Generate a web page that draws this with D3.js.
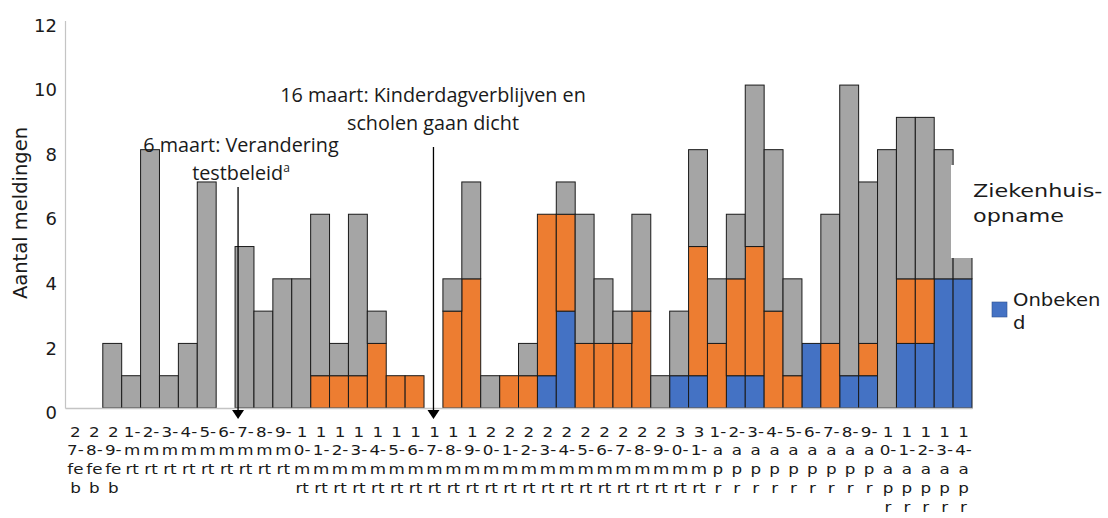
<!DOCTYPE html>
<html>
<head>
<meta charset="utf-8">
<script src="https://cdn.jsdelivr.net/npm/d3@7"></script>
<style>
  body { margin: 0; background: #fff; }
  svg { display: block; }
</style>
</head>
<body>
<svg id="chart" width="1108" height="518"></svg>
<script>
// categories (dates as Excel printed them)
const dates = [
  "27-feb", "28-feb", "29-feb",
  "1-mrt", "2-mrt", "3-mrt", "4-mrt", "5-mrt", "6-mrt", "7-mrt", "8-mrt", "9-mrt", "10-mrt",
  "11-mrt", "12-mrt", "13-mrt", "14-mrt", "15-mrt", "16-mrt", "17-mrt", "18-mrt", "19-mrt", "20-mrt",
  "21-mrt", "22-mrt", "23-mrt", "24-mrt", "25-mrt", "26-mrt", "27-mrt", "28-mrt", "29-mrt", "30-mrt", "31-mrt",
  "1-apr", "2-apr", "3-apr", "4-apr", "5-apr", "6-apr", "7-apr", "8-apr", "9-apr", "10-apr",
  "11-apr", "12-apr", "13-apr", "14-apr"
];

// series (stacked bottom -> top)
const onbekend = [0,0,0, 0,0,0,0,0,0,0,0,0,0, 0,0,0,0,0,0,0,0,0,0, 0,0,1,3,0,0,0,0,0,1,1, 0,1,1,0,0,2,0,1,1,0, 2,2,4,4];
const ja       = [0,0,0, 0,0,0,0,0,0,0,0,0,0, 1,1,1,2,1,1,0,3,4,0, 1,1,5,3,2,2,2,3,0,0,4, 2,3,4,3,1,0,2,0,1,0, 2,2,0,0];
const nee      = [0,0,2, 1,8,1,2,7,0,5,3,4,4, 5,1,5,1,0,0,0,1,3,1, 0,1,0,1,4,2,1,3,1,2,3, 2,2,5,5,3,0,4,9,5,8, 5,5,4,2];

const seriesKeys = ["onbekend", "ja", "nee"];
const seriesColors = { onbekend: "#4472c4", ja: "#ed7d31", nee: "#a5a5a5" };

const yTicks = [0, 2, 4, 6, 8, 10, 12];

const annotations = [
  { date: "7-mrt", offset: 3, lines: ["6 maart: Verandering", "testbeleid"], sup: "a", textX: 241, topY: 152, lineTop: 187 },
  { date: "17-mrt", offset: null, lines: ["16 maart: Kinderdagverblijven en", "scholen gaan dicht"], sup: null, textX: 433, topY: 102, lineTop: 147 }
];

const table = dates.map((d, i) => ({ date: d, onbekend: onbekend[i], ja: ja[i], nee: nee[i] }));

const svg = d3.select("#chart");
const margin = { left: 65, right: 136, top: 20, bottom: 110 };
const W = 1108, H = 518;

const x = d3.scaleBand().domain(dates).range([margin.left, W - margin.right]).padding(0);
const y = d3.scaleLinear().domain([0, 12]).range([H - margin.bottom, margin.top + 0.5]);

const stacked = d3.stack().keys(seriesKeys)(table);

// bars
svg.append("g").selectAll("g")
  .data(stacked)
  .join("g")
  .attr("fill", s => seriesColors[s.key])
  .selectAll("rect")
  .data(s => s.filter(d => d[1] - d[0] > 0))
  .join("rect")
  .attr("x", d => x(d.data.date))
  .attr("y", d => y(d[1]))
  .attr("width", x.bandwidth())
  .attr("height", d => y(d[0]) - y(d[1]))
  .attr("stroke", "#1a1a1a")
  .attr("stroke-width", 1);

// y axis
const yAxis = svg.append("g")
  .attr("transform", `translate(${margin.left},0)`)
  .call(d3.axisLeft(y).tickValues(yTicks).tickSize(0).tickPadding(8));
yAxis.select(".domain").attr("stroke", "#c4c4c4").attr("stroke-width", 1.2);
yAxis.selectAll("text")
  .attr("font-family", "DejaVu Sans, Verdana, sans-serif")
  .attr("font-size", 18)
  .attr("fill", "#1a1a1a")
  .attr("dy", "0.95em")
  .attr("transform", "translate(0,-6.5)");

// x axis
const xAxis = svg.append("g")
  .attr("transform", `translate(0,${y(0)})`)
  .call(d3.axisBottom(x).tickSize(0).tickFormat(""));
xAxis.select(".domain").attr("stroke", "#c4c4c4").attr("stroke-width", 1.5);

// wrapped tick labels, broken per character like the original
const measure = svg.append("text")
  .attr("font-family", "DejaVu Sans, Verdana, sans-serif")
  .attr("font-size", 14)
  .attr("visibility", "hidden");
function textWidth(s) {
  measure.text(s);
  return measure.node().getComputedTextLength();
}
function wrapLabel(label, maxW) {
  const out = [];
  let line = "";
  for (const ch of label) {
    if (line !== "" && textWidth(line + ch) > maxW) {
      out.push(line);
      line = ch;
    } else {
      line += ch;
    }
  }
  if (line) out.push(line);
  return out;
}
const labelMax = 14 * 1.02;
xAxis.selectAll(".tick").each(function (d) {
  const lines = wrapLabel(d, labelMax);
  const g = d3.select(this).append("g").attr("transform", "translate(1,28.5) scale(1.17,1)");
  lines.forEach((ln, k) => {
    g.append("text")
      .attr("y", k * 18.8)
      .attr("text-anchor", "middle")
      .attr("font-family", "DejaVu Sans, Verdana, sans-serif")
      .attr("font-size", 14.3)
      .attr("fill", "#1a1a1a")
      .text(ln);
  });
});
measure.remove();

// y axis title
svg.append("text")
  .attr("transform", "rotate(-90)")
  .attr("x", -213)
  .attr("y", 27)
  .attr("text-anchor", "middle")
  .attr("font-family", "DejaVu Sans, Verdana, sans-serif")
  .attr("font-size", 19.5)
  .attr("fill", "#1a1a1a")
  .text("Aantal meldingen");

// annotations with arrows
const ann = svg.append("g");
annotations.forEach(a => {
  const ax = a.offset === null ? x(a.date) + x.bandwidth() / 2 : x(a.date) + a.offset;
  ann.append("line")
    .attr("x1", ax).attr("x2", ax)
    .attr("y1", a.lineTop).attr("y2", y(0) + 3)
    .attr("stroke", "#000").attr("stroke-width", 1.3);
  ann.append("path")
    .attr("d", `M${ax - 6},${y(0) + 2} L${ax + 6},${y(0) + 2} L${ax},${y(0) + 11} Z`)
    .attr("fill", "#000");
  a.lines.forEach((ln, k) => {
    const t = ann.append("text")
      .attr("x", a.textX)
      .attr("y", a.topY + k * 27.5)
      .attr("text-anchor", "middle")
      .attr("font-family", "Open Sans, Noto Sans, sans-serif")
      .attr("font-size", 19.8)
      .attr("fill", "#1a1a1a")
      .text(ln);
    if (a.sup && k === a.lines.length - 1) {
      t.append("tspan")
        .attr("font-size", 12)
        .attr("dy", -8)
        .text(a.sup);
    }
  });
});

// legend (white box partly covering the last bars)
const legend = svg.append("g");
legend.append("rect")
  .attr("x", 951).attr("y", 165)
  .attr("width", W - 951).attr("height", 93)
  .attr("fill", "#fff");
const legendFont = "DejaVu Sans, Verdana, sans-serif";
[["Ziekenhuis-", 197], ["opname", 222]].forEach(([t, yy]) => {
  legend.append("text")
    .attr("transform", `translate(973,${yy}) scale(1.24,1)`)
    .attr("font-family", legendFont)
    .attr("font-size", 18)
    .attr("fill", "#1a1a1a")
    .text(t);
});
legend.append("rect")
  .attr("x", 992).attr("y", 302)
  .attr("width", 15).attr("height", 15)
  .attr("fill", seriesColors.onbekend)
  .attr("stroke", "#2f528f").attr("stroke-width", 0.6);
[["Onbeken", 306], ["d", 329]].forEach(([t, yy]) => {
  legend.append("text")
    .attr("transform", `translate(1013,${yy}) scale(1.06,1)`)
    .attr("font-family", legendFont)
    .attr("font-size", 18.5)
    .attr("fill", "#1a1a1a")
    .text(t);
});
</script>
</body>
</html>
